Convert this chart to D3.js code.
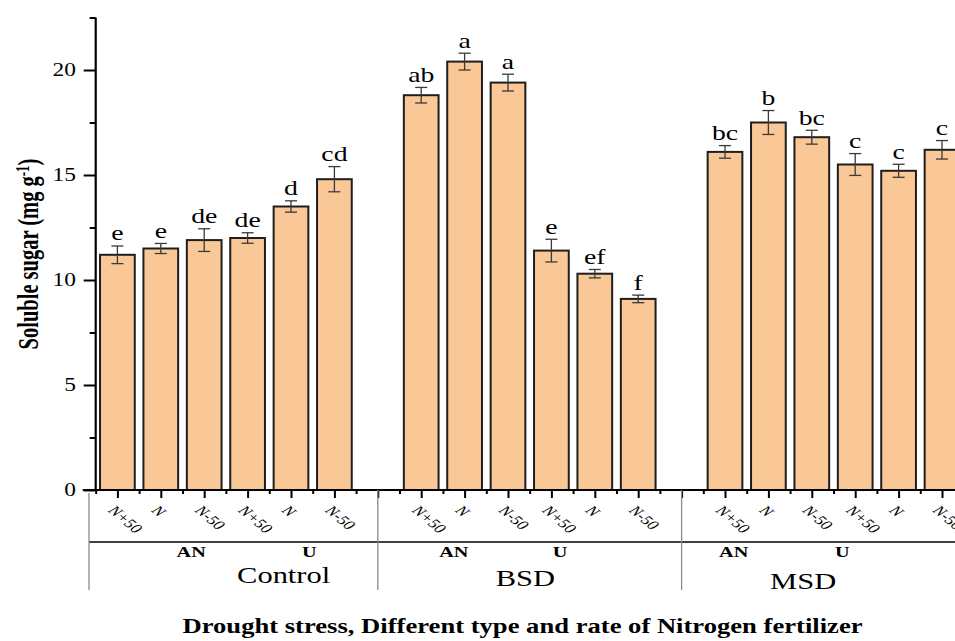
<!DOCTYPE html>
<html>
<head>
<meta charset="utf-8">
<script src="https://cdn.jsdelivr.net/npm/d3@7"></script>
<style>
  html, body { margin: 0; padding: 0; background: #fff; }
  svg { display: block; overflow: hidden; }
  text { font-family: "Times New Roman", "Liberation Serif", serif; fill: #000; }
</style>
</head>
<body>
<svg id="chart" width="955" height="641"></svg>
<script>
// Soluble sugar content under drought stress and nitrogen fertilizer treatments
const droughtLevels = ["Control", "BSD", "MSD"];
const fertilizerTypes = ["AN", "U"];
const nitrogenRates = ["N+50", "N", "N-50"];

const controlMeans = [11.2, 11.5, 11.9, 12.0, 13.5, 14.8];
const bsdMeans     = [18.8, 20.4, 19.4, 11.4, 10.3, 9.1];
const msdMeans     = [16.1, 17.5, 16.8, 15.5, 15.2, 16.2];

const controlErrors = [0.42, 0.24, 0.54, 0.25, 0.27, 0.60];
const bsdErrors     = [0.37, 0.40, 0.40, 0.54, 0.20, 0.18];
const msdErrors     = [0.30, 0.57, 0.33, 0.52, 0.31, 0.44];

const controlLetters = ["e", "e", "de", "de", "d", "cd"];
const bsdLetters     = ["ab", "a", "a", "e", "ef", "f"];
const msdLetters     = ["bc", "b", "bc", "c", "c", "c"];

const yMajorTicks = [0, 5, 10, 15, 20];
const yMinorTicks = [2.5, 7.5, 12.5, 17.5, 22.5];

const titleText = "Drought stress, Different type and rate of Nitrogen fertilizer";

// ---- assemble rows: each drought level takes 6 bars followed by one empty slot
const meansByLevel = [controlMeans, bsdMeans, msdMeans];
const errorsByLevel = [controlErrors, bsdErrors, msdErrors];
const lettersByLevel = [controlLetters, bsdLetters, msdLetters];
const slotsPerLevel = fertilizerTypes.length * nitrogenRates.length + 1;
const nSlots = droughtLevels.length * slotsPerLevel - 1;

const rows = [];
droughtLevels.forEach((lvl, g) => {
  fertilizerTypes.forEach((ft, t) => {
    nitrogenRates.forEach((rate, r) => {
      const j = t * nitrogenRates.length + r;
      rows.push({
        slot: g * slotsPerLevel + j,
        level: lvl, type: ft, rate: rate,
        mean: meansByLevel[g][j],
        err: errorsByLevel[g][j],
        letter: lettersByLevel[g][j]
      });
    });
  });
});

// ---- layout
const svg = d3.select("#chart");
const x0 = 95.7, slotW = 43.4;
const x = d3.scaleBand()
  .domain(d3.range(nSlots))
  .range([x0, x0 + slotW * nSlots])
  .paddingInner(0.2)
  .paddingOuter(0.1);
const xc = s => x(s) + x.bandwidth() / 2;             // slot centre
const xs = s => x0 + slotW * (s + 0.5);               // fractional slot centre

const y = d3.scaleLinear().domain([0, 22.5]).range([490, 17.5]);

const FILL = "#FAC897";

// stretched upright text helper
function label(g, txt, px, py, opts) {
  return g.append("text")
    .attr("transform", `translate(${px},${py}) scale(${opts.sx || 1},1)`)
    .attr("text-anchor", opts.anchor || "middle")
    .style("font-size", opts.size + "px")
    .style("font-weight", opts.bold ? "bold" : "normal")
    .text(txt);
}

// ---- bars
svg.append("g").selectAll("rect")
  .data(rows).join("rect")
  .attr("x", d => x(d.slot))
  .attr("y", d => y(d.mean))
  .attr("width", x.bandwidth())
  .attr("height", d => y(0) - y(d.mean))
  .attr("fill", FILL)
  .attr("stroke", "#1e1e1e")
  .attr("stroke-width", 2);

// ---- error bars
const eb = svg.append("g").attr("stroke", "#3a3a3a").attr("stroke-width", 1.3);
rows.forEach(d => {
  const cx = xc(d.slot);
  eb.append("line").attr("x1", cx).attr("x2", cx)
    .attr("y1", y(d.mean + d.err)).attr("y2", y(d.mean - d.err));
  [d.mean + d.err, d.mean - d.err].forEach(v => {
    eb.append("line").attr("x1", cx - 6).attr("x2", cx + 6)
      .attr("y1", y(v)).attr("y2", y(v));
  });
});

// ---- significance letters
const lg = svg.append("g");
rows.forEach(d => {
  label(lg, d.letter, xc(d.slot), y(d.mean + d.err) - 5.5, { size: 21, sx: 1.32 });
});

// ---- y axis
const yAxisMajor = d3.axisLeft(y).tickValues(yMajorTicks).tickSize(12).tickFormat(d3.format("d"));
const yAxisMinor = d3.axisLeft(y).tickValues(yMinorTicks).tickSize(6).tickFormat("");
const yg = svg.append("g").attr("transform", `translate(${x0},0)`).call(yAxisMajor);
yg.select(".domain").attr("stroke-width", 2.2).attr("d", `M0,${y(22.5)}V${y(0)}`);
yg.selectAll(".tick line").attr("stroke-width", 2);
yg.selectAll(".tick text").remove();
svg.append("g").attr("transform", `translate(${x0},0)`).call(yAxisMinor)
  .call(g => g.select(".domain").remove())
  .selectAll(".tick line").attr("stroke-width", 2);
const yl = svg.append("g");
yMajorTicks.forEach(v => {
  label(yl, v, 76, y(v) + 6, { size: 18, sx: 1.3, anchor: "end" });
});

// ---- x axis: major ticks at slot centres, minor ticks at slot boundaries
const xLin = d3.scaleLinear().domain([-0.5, nSlots - 0.5]).range([x0, x0 + slotW * nSlots]);
const xMajor = d3.axisBottom(xLin).tickValues(d3.range(nSlots)).tickSize(8).tickFormat("");
const xMinor = d3.axisBottom(xLin).tickValues(d3.range(nSlots + 1).map(i => i - 0.5)).tickSize(4).tickFormat("");
const xg = svg.append("g").attr("transform", `translate(0,${y(0)})`).call(xMajor);
xg.select(".domain").attr("stroke-width", 2.2).attr("d", `M${x0 - 13},0H${x0 + slotW * nSlots}`);
xg.selectAll(".tick line").attr("stroke-width", 2);
svg.append("g").attr("transform", `translate(0,${y(0)})`).call(xMinor)
  .call(g => g.select(".domain").remove())
  .selectAll(".tick line").attr("stroke-width", 2);

// rotated rate labels
const rl = svg.append("g");
rows.forEach(d => {
  rl.append("text")
    .attr("transform", `translate(${xc(d.slot) - 10},511) scale(1.2,1) rotate(45)`)
    .style("font-size", "14px")
    .style("font-style", "italic")
    .text(d.rate);
});

// ---- grouping lines
const gl = svg.append("g");
gl.append("line").attr("x1", 89).attr("x2", 955).attr("y1", 542).attr("y2", 542)
  .attr("stroke", "#000").attr("stroke-width", 1.6);
gl.append("line").attr("x1", 89).attr("x2", 89).attr("y1", 493).attr("y2", 590)
  .attr("stroke", "#8a8a8a").attr("stroke-width", 1.3);
droughtLevels.slice(1).forEach((lvl, i) => {
  const sx = xs((i + 1) * slotsPerLevel - 1);
  gl.append("line").attr("x1", sx).attr("x2", sx).attr("y1", 490).attr("y2", 590)
    .attr("stroke", "#8a8a8a").attr("stroke-width", 1.3);
});

// fertilizer type and drought level labels (slot offsets from each level's first bar)
const typeLabelAt = [[1.7, 4.42], [0.75, 3.2], [0.2, 2.7]];
const levelLabelAt = [3.83, 2.4, 1.8];
const levelBaseline = [583, 586, 589];
const tl = svg.append("g");
droughtLevels.forEach((lvl, g) => {
  const start = g * slotsPerLevel;
  fertilizerTypes.forEach((ft, t) => {
    label(tl, ft, xs(start + typeLabelAt[g][t]), 557, { size: 15, bold: true, sx: 1.35 });
  });
  label(tl, lvl, xs(start + levelLabelAt[g]), levelBaseline[g], { size: 24, sx: 1.27 });
});

// ---- axis titles
label(svg, titleText, 522.5, 633, { size: 22, bold: true, sx: 1.21 });

const yt = svg.append("text")
  .attr("transform", "translate(38,254) rotate(-90) scale(1,1.4)")
  .attr("text-anchor", "middle")
  .style("font-size", "20.5px")
  .style("font-weight", "bold");
yt.append("tspan").text("Soluble sugar (mg g");
yt.append("tspan").attr("baseline-shift", "super").style("font-size", "13px").text("-1");
yt.append("tspan").text(")");
</script>
</body>
</html>
